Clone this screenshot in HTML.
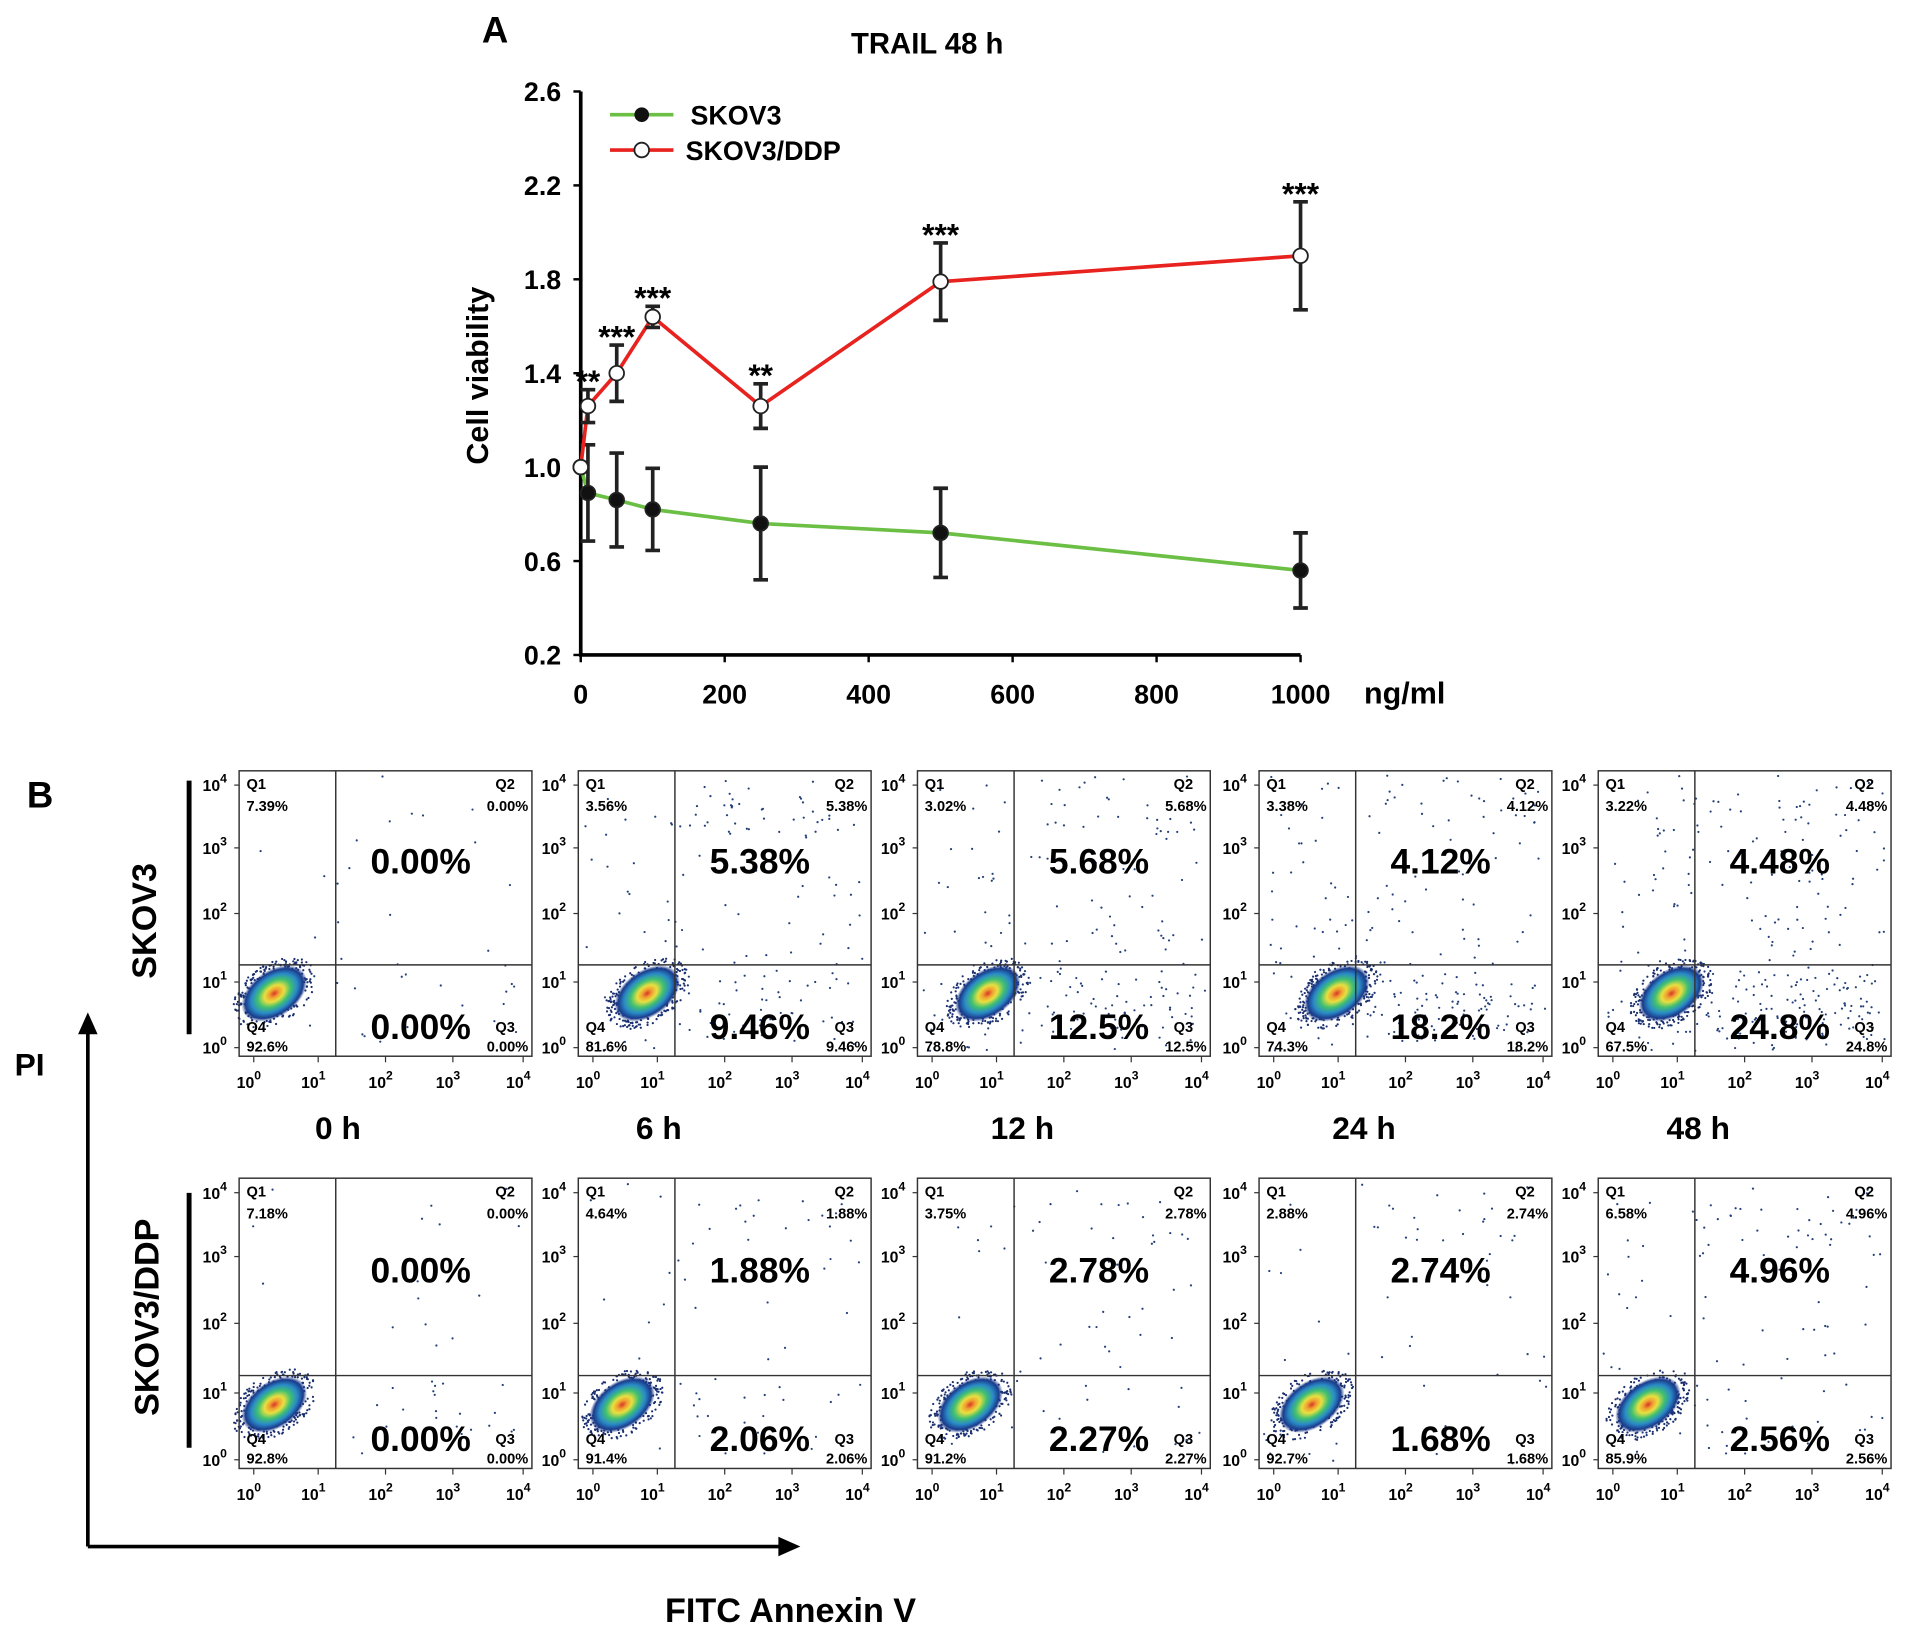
<!DOCTYPE html>
<html><head><meta charset="utf-8"><style>
html,body{margin:0;padding:0;background:#fff}
svg{display:block;font-family:"Liberation Sans",Arial,sans-serif}
</style></head><body>
<svg id="root" width="1913" height="1638" viewBox="0 0 1568 1343" preserveAspectRatio="none" xmlns="http://www.w3.org/2000/svg">
<defs>
<radialGradient id="blob" cx="50%" cy="50%" r="50%">
<stop offset="0" stop-color="#d8352a"/>
<stop offset="0.15" stop-color="#f0a030"/>
<stop offset="0.3" stop-color="#e8e040"/>
<stop offset="0.5" stop-color="#40c070"/>
<stop offset="0.7" stop-color="#2a8ac8"/>
<stop offset="0.88" stop-color="#1a3a8a"/>
<stop offset="1" stop-color="#1a3a8a" stop-opacity="0"/>
</radialGradient>
</defs>
<text x="395" y="35" font-size="30" font-weight="bold">A</text>
<text x="760" y="44" font-size="24" font-weight="bold" text-anchor="middle">TRAIL 48 h</text>
<g id="chart"></g>
<text x="22" y="662" font-size="30" font-weight="bold">B</text>
<text x="12" y="882" font-size="26" font-weight="bold">PI</text>
<text x="648" y="1330" font-size="28" font-weight="bold" text-anchor="middle">FITC Annexin V</text>
<line x1="72" y1="1268" x2="72" y2="845" stroke="#000" stroke-width="3"/>
<polygon points="72,830 64,848 80,848" fill="#000"/>
<line x1="72" y1="1268" x2="640" y2="1268" stroke="#000" stroke-width="3"/>
<polygon points="656,1268 638,1260 638,1276" fill="#000"/>
<text transform="translate(128,755) rotate(-90)" font-size="28" font-weight="bold" text-anchor="middle">SKOV3</text>
<line x1="155" y1="640" x2="155" y2="848" stroke="#000" stroke-width="4"/>
<text transform="translate(130,1080) rotate(-90)" font-size="28" font-weight="bold" text-anchor="middle">SKOV3/DDP</text>
<line x1="155" y1="978" x2="155" y2="1187" stroke="#000" stroke-width="4"/>
<g id="flow"></g>
</svg>
<script>
var NS="http://www.w3.org/2000/svg";
// ---- Chart data ----
var doses=[0,10,50,100,250,500,1000];
var skov3=[1.0,0.89,0.86,0.82,0.76,0.72,0.56];
var skov3Err=[0,0.205,0.2,0.175,0.24,0.19,0.16];
var ddp=[1.0,1.26,1.40,1.64,1.26,1.79,1.90];
var ddpErr=[0,0.07,0.12,0.045,0.095,0.165,0.23];
var stars=["","**","***","***","**","***","***"];
var yTicks=[0.2,0.6,1.0,1.4,1.8,2.2,2.6];
var xTicks=[0,200,400,600,800,1000];

var X0=476,X1=1066,Y0=537,Y1=75;
function sx(v){return X0+(v/1000)*(X1-X0);}
function sy(v){return Y0-(v-0.2)/2.4*(Y0-Y1);}
var chart=document.getElementById('chart');
function mk(tag,attrs,parent){var e=document.createElementNS(NS,tag);for(var k in attrs)e.setAttribute(k,attrs[k]);(parent||chart).appendChild(e);return e;}
function txt(s,attrs,parent){var e=mk('text',attrs,parent);e.textContent=s;return e;}

var ax=mk('path',{d:"M"+X0+","+Y1+" L"+X0+","+Y0+" L"+X1+","+Y0,fill:"none",stroke:"#000","stroke-width":3});


yTicks.forEach(function(t){
  var l=mk('line',{x1:X0-6,x2:X0,y1:sy(t),y2:sy(t),stroke:"#000","stroke-width":2});
  
  
  var tx=txt(t.toFixed(1),{x:X0-16,y:sy(t)+8,"font-size":22,"font-weight":"bold","text-anchor":"end"});
  
  
});
xTicks.forEach(function(t){
  var l=mk('line',{x1:sx(t),x2:sx(t),y1:Y0,y2:Y0+6,stroke:"#000","stroke-width":2});
  
  
  var tx=txt(String(t),{x:sx(t),y:Y0+40,"font-size":22,"font-weight":"bold","text-anchor":"middle"});
  
  
});
var un=txt("ng/ml",{x:1118,y:Y0+40,"font-size":25,"font-weight":"bold"});


var yt=txt("Cell viability",{x:0,y:0,"font-size":25,"font-weight":"bold","text-anchor":"middle",transform:"translate(400,308) rotate(-90)"});



function series(vals,errs,color,fill,name){
  var d=vals.map(function(v,i){return (i?"L":"M")+sx(doses[i])+","+sy(v);}).join(" ");
  var p=mk('path',{d:d,fill:"none",stroke:color,"stroke-width":3});
  
  
  vals.forEach(function(v,i){
    if(errs[i]>0){
      var x=sx(doses[i]),a=sy(v+errs[i]),b=sy(v-errs[i]);
      var e=mk('path',{d:"M"+x+","+a+"L"+x+","+b+"M"+(x-6)+","+a+"L"+(x+6)+","+a+"M"+(x-6)+","+b+"L"+(x+6)+","+b,stroke:"#222","stroke-width":3,fill:"none"});
      
      
    }
  });
  vals.forEach(function(v,i){
    var c=mk('circle',{cx:sx(doses[i]),cy:sy(v),r:6,fill:fill,stroke:"#222","stroke-width":1.5});
    
    
  });
}
series(skov3,skov3Err,"#6cbf45","#111","skov3");
series(ddp,ddpErr,"#e8221e","#fff","skov3-ddp");
stars.forEach(function(s,i){
  if(!s)return;
  var t=txt(s,{x:sx(doses[i]),y:sy(ddp[i]+ddpErr[i])+2,"font-size":26,"font-weight":"bold","text-anchor":"middle"});
  
  
});
// legend
var lg=mk('g',{});


mk('line',{x1:500,x2:552,y1:94,y2:94,stroke:"#6cbf45","stroke-width":3},lg);
mk('circle',{cx:526,cy:94,r:6,fill:"#111"},lg);
var lt1=txt("SKOV3",{x:566,y:102,"font-size":22,"font-weight":"bold"},lg);


mk('line',{x1:500,x2:552,y1:123,y2:123,stroke:"#e8221e","stroke-width":3},lg);
mk('circle',{cx:526,cy:123,r:6,fill:"#fff",stroke:"#222","stroke-width":1.5},lg);
var lt2=txt("SKOV3/DDP",{x:562,y:131,"font-size":22,"font-weight":"bold"},lg);



// ---- Flow panels ----
var times=["0 h","6 h","12 h","24 h","48 h"];
var q1Row1=["7.39%","3.56%","3.02%","3.38%","3.22%"];
var q2Row1=["0.00%","5.38%","5.68%","4.12%","4.48%"];
var q3Row1=["0.00%","9.46%","12.5%","18.2%","24.8%"];
var q4Row1=["92.6%","81.6%","78.8%","74.3%","67.5%"];
var q1Row2=["7.18%","4.64%","3.75%","2.88%","6.58%"];
var q2Row2=["0.00%","1.88%","2.78%","2.74%","4.96%"];
var q3Row2=["0.00%","2.06%","2.27%","1.68%","2.56%"];
var q4Row2=["92.8%","91.4%","91.2%","92.7%","85.9%"];
var blobRow1=[0.12,0.235,0.24,0.265,0.25];
var blobRow2=[0.12,0.15,0.18,0.18,0.17];

var flow=document.getElementById('flow');
var panelX=[196,474,752,1032,1310],PW=240;
var rowY=[632,966],PH=[234,238];
var seed=7;function rnd(){seed=(seed*16807)%2147483647;return seed/2147483647;}
function sup(g,x,y,e,name){
  var t=mk('text',{x:x,y:y,"font-size":13,"font-weight":"bold","text-anchor":"middle"},g);
  t.textContent="10";
  var s=mk('tspan',{dy:-7,"font-size":10},t);s.textContent=e;
  
  
}
function panel(r,i,q1,q2,q3,q4,bfx){
  var x=panelX[i],y=rowY[r],h=PH[r],w=PW;
  var g=mk('g',{},flow);
  
  
  var gx=x+w*0.33,gy=y+h*0.68;
  var n=Math.round((parseFloat(q2)+parseFloat(q3)+parseFloat(q1)*0.6)*9);
  for(var k=0;k<n;k++){
    var px=x+4+rnd()*(w-8),py=y+4+rnd()*(h-8);
    var pp=parseFloat(q2)/(parseFloat(q2)+parseFloat(q3)+0.01);
    if(rnd()<0.35){py=(rnd()<pp)?y+h*(0.08+rnd()*0.15):y+h*(0.7+rnd()*0.25);px=x+w*(0.35+rnd()*0.6);}
    mk('circle',{cx:px,cy:py,r:0.9,fill:"#24407a"},g);
  }
  var bx=x+w*bfx,by=y+h*0.78;
  for(var k=0;k<320;k++){
    var a=rnd()*6.283,rr=Math.sqrt(rnd())*1.0;
    var dx=Math.cos(a)*rr*38,dy=Math.sin(a)*rr*24;
    var ang=-0.6;
    mk('circle',{cx:bx+dx*Math.cos(ang)-dy*Math.sin(ang),cy:by+dx*Math.sin(ang)+dy*Math.cos(ang),r:0.9,fill:"#1a2f70"},g);
  }
  var bl=mk('ellipse',{cx:bx,cy:by,rx:30,ry:19,fill:"url(#blob)",transform:"rotate(-35 "+bx+" "+by+")"},g);
  
  
  var fr=mk('rect',{x:x,y:y,width:w,height:h,fill:"none",stroke:"#333","stroke-width":1.2},g);
  
  
  var gl=mk('path',{d:"M"+gx+","+y+"V"+(y+h)+"M"+x+","+gy+"H"+(x+w),stroke:"#333","stroke-width":1.2},g);
  
  
  function st(s,xx,yy,anc,name){var t=txt(s,{x:xx,y:yy,"font-size":12,"font-weight":"bold","text-anchor":anc},g);}
  st("Q1",x+6,y+15,"start","q1-label");st(q1,x+6,y+33,"start","q1-value");
  st("Q2",x+w-30,y+15,"start","q2-label");st(q2,x+w-3,y+33,"end","q2-value");
  st("Q3",x+w-30,y+h-20,"start","q3-label");st(q3,x+w-3,y+h-4,"end","q3-value");
  st("Q4",x+6,y+h-20,"start","q4-label");st(q4,x+6,y+h-4,"start","q4-value");
  var b2=txt(q2,{x:x+w*0.62,y:y+h*0.36,"font-size":29,"font-weight":"bold","text-anchor":"middle"},g);
  
  
  var b3=txt(q3,{x:x+w*0.62,y:y+h*0.94,"font-size":29,"font-weight":"bold","text-anchor":"middle"},g);
  
  
  var ey=[0.97,0.74,0.5,0.27,0.05],ex=[0.05,0.27,0.5,0.73,0.97];
  for(var e=0;e<5;e++){
    sup(g,x-20,y+h*ey[e]+5,String(e),'y-tick-label');
    sup(g,x+w*ex[e]-4,y+h+26,String(e),'x-tick-label');
    mk('line',{x1:x-4,x2:x,y1:y+h*ey[e],y2:y+h*ey[e],stroke:"#333"},g);
    mk('line',{x1:x+w*ex[e],x2:x+w*ex[e],y1:y+h,y2:y+h+5,stroke:"#333"},g);
  }
}
for(var i=0;i<5;i++){
  panel(0,i,q1Row1[i],q2Row1[i],q3Row1[i],q4Row1[i],blobRow1[i]);
  panel(1,i,q1Row2[i],q2Row2[i],q3Row2[i],q4Row2[i],blobRow2[i]);
}
var tcx=[277,540,838,1118,1392];
times.forEach(function(t,i){
  var e=txt(t,{x:tcx[i],y:934,"font-size":26,"font-weight":"bold","text-anchor":"middle"},flow);
  
  
});
</script>
</body></html>
